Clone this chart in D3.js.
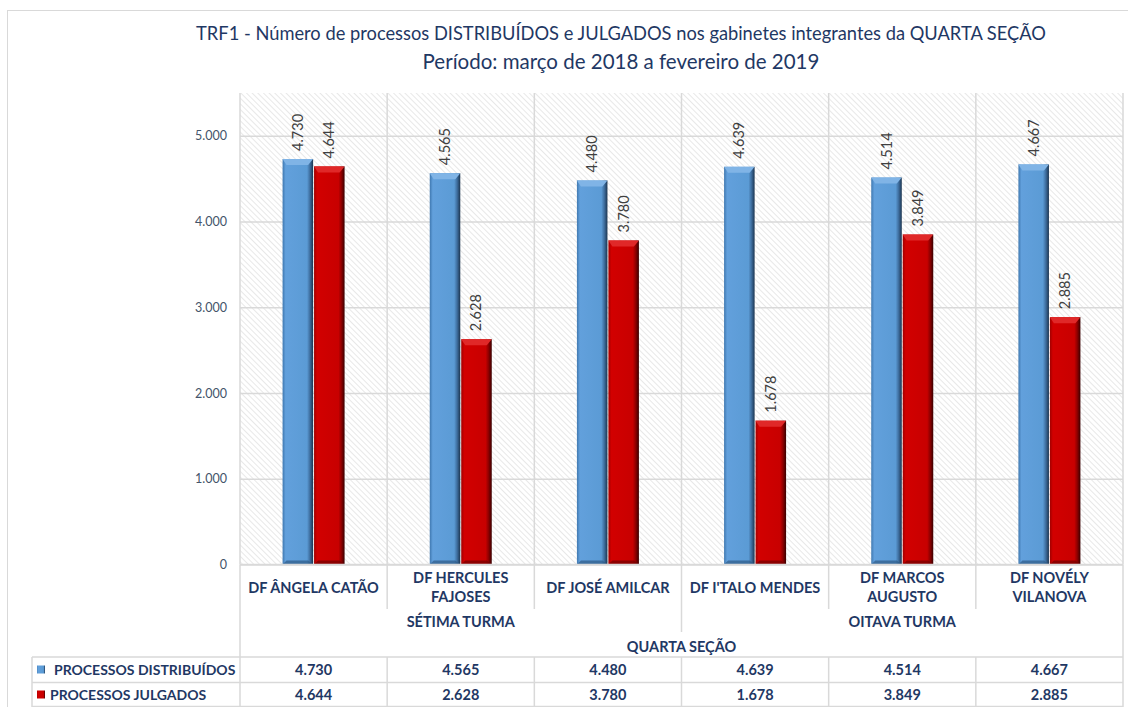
<!DOCTYPE html>
<html>
<head>
<meta charset="utf-8">
<script src="https://cdn.jsdelivr.net/npm/d3@7"></script>
<style>
  body { margin: 0; background: #fff; }
  text { font-family: Lato, "Open Sans", sans-serif; }
</style>
</head>
<body>
<div id="chart"></div>
<script>
// data
const judges = ["DF ÂNGELA CATÃO", "DF HERCULES|FAJOSES", "DF JOSÉ AMILCAR", "DF I'TALO MENDES", "DF MARCOS|AUGUSTO", "DF NOVÉLY|VILANOVA"];
const distribuidos = [4730, 4565, 4480, 4639, 4514, 4667];
const julgados = [4644, 2628, 3780, 1678, 3849, 2885];
const seriesNames = ["PROCESSOS DISTRIBUÍDOS", "PROCESSOS JULGADOS"];
const turmas = ["SÉTIMA TURMA", "OITAVA TURMA"];
const turmaOf = [0, 0, 0, 1, 1, 1];
const secao = "QUARTA SEÇÃO";
const yTicks = [0, 1000, 2000, 3000, 4000, 5000];
const titleLines = ["TRF1 -  Número de processos DISTRIBUÍDOS e JULGADOS nos gabinetes integrantes da QUARTA SEÇÃO",
                    "Período: março de 2018 a fevereiro de 2019"];

const W = 1128, H = 707;
const plot = { left: 240, right: 1123, top: 93, bottom: 564.5 };
const navy = "#1f3864", grid = "#d9d9d9";

const br = d3.formatLocale({ decimal: ",", thousands: ".", grouping: [3] });
const fmt = br.format(",d");

const svg = d3.select("#chart").append("svg")
    .attr("width", W)
    .attr("height", H);

const defs = svg.append("defs");

// hatch background
const pat = defs.append("pattern")
    .attr("id", "hatch")
    .attr("patternUnits", "userSpaceOnUse")
    .attr("width", 4).attr("height", 4)
    .attr("patternTransform", "rotate(-45)");
pat.append("rect").attr("width", 4).attr("height", 4).attr("fill", "#fff");
pat.append("line").attr("x1", 0).attr("y1", 0).attr("x2", 0).attr("y2", 4)
    .attr("stroke", "#dcdcdc").attr("stroke-width", 1.3);

// bar gradients
const colors = [
  { id: "gBlue", stops: [["0%", "#3f78b0"], ["10%", "#62a0dc"], ["80%", "#5b9bd5"], ["90%", "#3d6c9c"], ["100%", "#1c3550"]], top: "#80b4e6", bot: "#2e5a86" },
  { id: "gRed", stops: [["0%", "#a00000"], ["10%", "#d20000"], ["80%", "#c80000"], ["90%", "#8a0000"], ["100%", "#3a0000"]], top: "#e02828", bot: "#700000" }
];
colors.forEach(c => {
  const g = defs.append("linearGradient").attr("id", c.id)
      .attr("x1", "0%").attr("x2", "100%").attr("y1", "0%").attr("y2", "0%");
  c.stops.forEach(s => g.append("stop").attr("offset", s[0]).attr("stop-color", s[1]));
});

// chart area border
svg.append("rect")
    .attr("x", 7.5).attr("y", 10.5)
    .attr("width", W).attr("height", H)
    .attr("fill", "none").attr("stroke", "#d9d9d9");

// title
svg.selectAll(".title")
  .data(titleLines)
  .join("text")
    .attr("class", "title")
    .attr("x", 621)
    .attr("y", (d, i) => 40 + i * 29)
    .attr("text-anchor", "middle")
    .attr("fill", navy)
    .style("font-size", (d, i) => i === 0 ? "18.3px" : "20.5px")
    .text(d => d);

// scales
const x = d3.scaleBand()
    .domain(d3.range(judges.length))
    .range([plot.left, plot.right]);
const xs = d3.scaleBand()
    .domain([0, 1])
    .range([-31, 31])
    .paddingInner(0.03);
const y = d3.scaleLinear()
    .domain([0, 5500])
    .range([plot.bottom, plot.top]);

// plot background
svg.append("rect")
    .attr("x", plot.left).attr("y", plot.top)
    .attr("width", plot.right - plot.left)
    .attr("height", plot.bottom - plot.top)
    .attr("fill", "url(#hatch)");

// horizontal grid + y labels
const yAxis = svg.append("g")
    .attr("transform", `translate(${plot.left},0)`)
    .call(d3.axisLeft(y).tickValues(yTicks).tickFormat(fmt).tickSize(-(plot.right - plot.left)).tickPadding(13));
yAxis.select(".domain").remove();
yAxis.selectAll(".tick line").attr("stroke", grid).attr("stroke-width", 1.5);
yAxis.selectAll(".tick text")
    .attr("fill", "#44546a")
    .style("font-size", "12.5px")
    .style("font-family", "Lato, sans-serif");

// vertical grid at category boundaries
svg.append("g").selectAll("line")
  .data(d3.range(judges.length + 1))
  .join("line")
    .attr("x1", i => i < judges.length ? x(i) : plot.right)
    .attr("x2", i => i < judges.length ? x(i) : plot.right)
    .attr("y1", plot.top).attr("y2", plot.bottom)
    .attr("stroke", grid).attr("stroke-width", 1.5);

// bars
const series = [distribuidos, julgados];
const barW = xs.bandwidth();
series.forEach((vals, s) => {
  const c = colors[s];
  const g = svg.append("g");
  const bx = (d, i) => x(i) + x.bandwidth() / 2 + xs(s);
  g.selectAll("rect")
    .data(vals)
    .join("rect")
      .attr("x", bx)
      .attr("y", d => y(d))
      .attr("width", barW)
      .attr("height", d => y(0) - y(d))
      .attr("fill", `url(#${c.id})`);
  // top bevel
  g.selectAll(".top")
    .data(vals)
    .join("path")
      .attr("class", "top")
      .attr("d", (d, i) => {
        const x0 = bx(d, i), y0 = y(d);
        return `M${x0},${y0}H${x0 + barW}L${x0 + barW - 5},${y0 + 6}H${x0 + 4}Z`;
      })
      .attr("fill", c.top);
  // bottom bevel
  g.selectAll(".bot")
    .data(vals)
    .join("path")
      .attr("class", "bot")
      .attr("d", (d, i) => {
        const x0 = bx(d, i), y0 = y(0);
        return `M${x0},${y0}H${x0 + barW}L${x0 + barW - 5},${y0 - 4}H${x0 + 4}Z`;
      })
      .attr("fill", c.bot)
      .attr("opacity", 0.7);
  // value labels
  g.selectAll(".lbl")
    .data(vals)
    .join("text")
      .attr("class", "lbl")
      .attr("transform", (d, i) => `translate(${bx(d, i) + barW / 2 + 5},${y(d) - 8}) rotate(-90)`)
      .attr("fill", "#404040")
      .style("font-size", "14.5px")
      .text(d => fmt(d));
});

// category / group frame lines
const lines = svg.append("g").attr("stroke", grid).attr("stroke-width", 1.5);
lines.append("line").attr("x1", plot.left).attr("x2", plot.right).attr("y1", plot.bottom).attr("y2", plot.bottom);
lines.append("line").attr("x1", plot.left).attr("x2", plot.left).attr("y1", plot.bottom).attr("y2", H);
lines.append("line").attr("x1", plot.right).attr("x2", plot.right).attr("y1", plot.bottom).attr("y2", H);
lines.selectAll(".sep")
  .data(d3.range(1, judges.length))
  .join("line")
    .attr("x1", i => x(i)).attr("x2", i => x(i))
    .attr("y1", plot.bottom)
    .attr("y2", i => turmaOf[i] !== turmaOf[i - 1] ? 632 : 609);
// table lines
[657, 682.5, 706.5].forEach(yy =>
  lines.append("line").attr("x1", 32).attr("x2", plot.right).attr("y1", yy).attr("y2", yy));
lines.append("line").attr("x1", 32).attr("x2", 32).attr("y1", 657).attr("y2", H);
lines.selectAll(".tsep")
  .data(d3.range(1, judges.length))
  .join("line")
    .attr("x1", i => x(i)).attr("x2", i => x(i))
    .attr("y1", 657).attr("y2", H);

// category labels
const catG = svg.append("g")
    .attr("fill", navy)
    .style("font-size", "14.5px")
    .style("font-weight", "bold");
judges.forEach((name, i) => {
  const parts = name.split("|");
  const cx = x(i) + x.bandwidth() / 2;
  const t = catG.append("text").attr("text-anchor", "middle");
  parts.forEach((p, k) => {
    const yy = parts.length === 1 ? 593 : 583 + k * 19;
    t.append("tspan").attr("x", cx).attr("y", yy).text(p);
  });
});

// turma labels
turmas.forEach((name, t) => {
  const idx = turmaOf.map((v, i) => v === t ? i : -1).filter(i => i >= 0);
  const x0 = x(idx[0]), x1 = x(idx[idx.length - 1]) + x.bandwidth();
  catG.append("text")
      .attr("x", (x0 + x1) / 2).attr("y", 627)
      .attr("text-anchor", "middle")
      .text(name);
});
catG.append("text")
    .attr("x", (plot.left + plot.right) / 2).attr("y", 652)
    .attr("text-anchor", "middle")
    .text(secao);

// data table
const rowY = [675, 700];
series.forEach((vals, s) => {
  const c = colors[s];
  catG.append("rect")
      .attr("x", 37).attr("y", rowY[s] - 9.5)
      .attr("width", 8).attr("height", 8)
      .attr("fill", `url(#${c.id})`);
  catG.append("text")
      .attr("x", s === 0 ? 54 : 50).attr("y", rowY[s])
      .style("font-size", "14px")
      .text(seriesNames[s]);
  catG.selectAll(null)
    .data(vals)
    .join("text")
      .attr("x", (d, i) => x(i) + x.bandwidth() / 2)
      .attr("y", rowY[s])
      .attr("text-anchor", "middle")
      .text(d => fmt(d));
});
</script>
</body>
</html>
